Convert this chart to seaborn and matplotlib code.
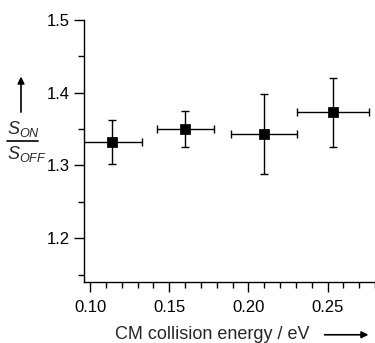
import pandas as pd
import seaborn as sns
import matplotlib.pyplot as plt
from matplotlib.lines import Line2D
from matplotlib.ticker import MultipleLocator

# values
energy = [0.114, 0.160, 0.210, 0.2535]
energy_err = [0.019, 0.018, 0.021, 0.023]
ratio = [1.332, 1.350, 1.343, 1.373]
ratio_err = [0.030, 0.025, 0.055, 0.047]

df = pd.DataFrame({'energy': energy, 'ratio': ratio})

sns.set_style('ticks')
plt.rcParams['font.family'] = ['Liberation Sans', 'DejaVu Sans']
plt.rcParams['mathtext.fontset'] = 'custom'
plt.rcParams['mathtext.it'] = 'Liberation Sans:italic'
plt.rcParams['mathtext.rm'] = 'Liberation Sans'

fig = plt.figure(figsize=(3.75, 3.43), dpi=100)
ax = fig.add_axes([0.224, 0.178, 0.776, 0.764])

ax.errorbar(
    df['energy'], df['ratio'],
    xerr=energy_err, yerr=ratio_err,
    fmt='none', ecolor='black', elinewidth=1.0,
    capsize=3, capthick=1.0,
)
sns.scatterplot(
    data=df, x='energy', y='ratio', ax=ax,
    marker='s', s=45, color='black', edgecolor='black', zorder=3,
)

ax.set_xlim(0.0962, 0.28)
ax.set_ylim(1.14, 1.5)
ax.xaxis.set_major_locator(MultipleLocator(0.05))
ax.xaxis.set_minor_locator(MultipleLocator(0.01))
ax.yaxis.set_major_locator(MultipleLocator(0.1))
ax.yaxis.set_minor_locator(MultipleLocator(0.05))
ax.xaxis.set_major_formatter(plt.FormatStrFormatter('%.2f'))
ax.yaxis.set_major_formatter(plt.FormatStrFormatter('%.1f'))
ax.tick_params(which='major', length=7, width=1, labelsize=12, colors='black')
ax.tick_params(which='minor', length=4, width=1, colors='black')
ax.tick_params(axis='x', which='major', pad=6)
ax.tick_params(axis='y', which='major', pad=3)
for side in ['top', 'right']:
    ax.spines[side].set_visible(False)
for side in ['left', 'bottom']:
    ax.spines[side].set_color('black')
    ax.spines[side].set_linewidth(1)

ax.set_xlabel('')
ax.set_ylabel('')
fig.text(0.567, 0.026, 'CM collision energy / eV', ha='center', va='center', fontsize=13)
ax.annotate('', xy=(0.99, 0.024), xytext=(0.858, 0.024), xycoords='figure fraction',
            arrowprops=dict(arrowstyle='-|>', color='black', lw=1.2, mutation_scale=10))

# y label drawn as a stacked fraction with an arrow above
fig.text(0.019, 0.624, r'$S_{ON}$', ha='left', va='center', fontsize=13)
fig.add_artist(Line2D([0.019, 0.102], [0.589, 0.589], color='black', lw=1.2,
                      transform=fig.transFigure))
fig.text(0.019, 0.552, r'$S_{OFF}$', ha='left', va='center', fontsize=13)
ax.annotate('', xy=(0.056, 0.785), xytext=(0.056, 0.665), xycoords='figure fraction',
            arrowprops=dict(arrowstyle='-|>', color='black', lw=1.2, mutation_scale=10))

fig.savefig('out.png', dpi=100)
